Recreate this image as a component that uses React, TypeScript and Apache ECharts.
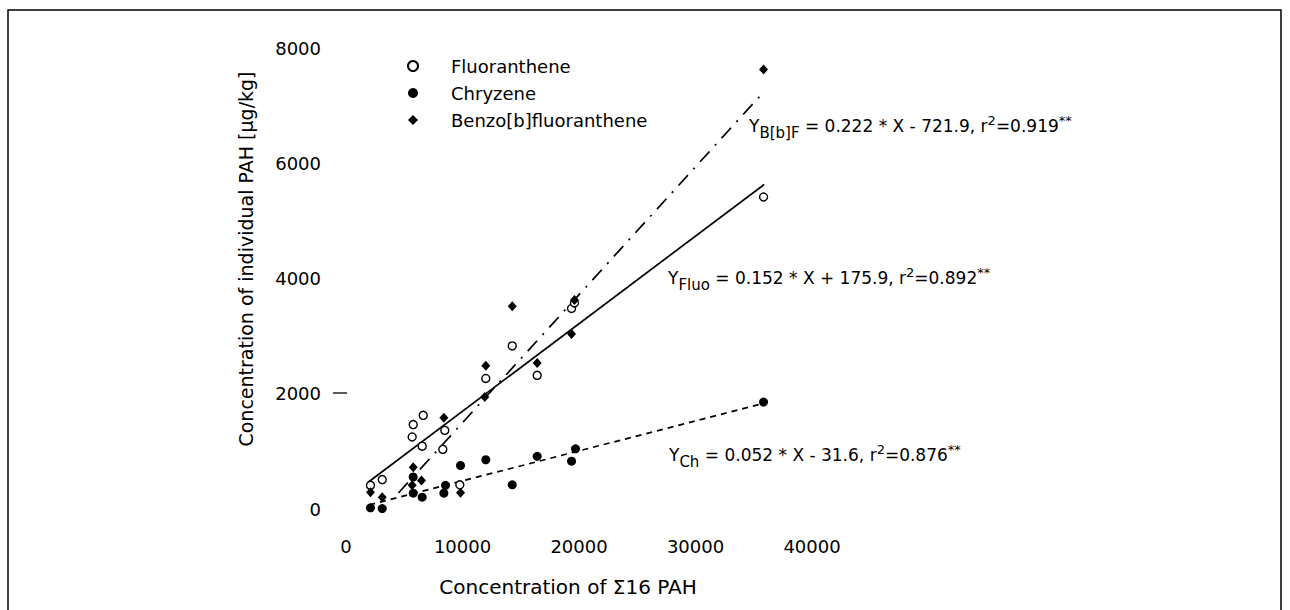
import React, { useEffect, useRef } from "react";
import * as echarts from "echarts";

const seriesNames = ["Fluoranthene", "Chryzene", "Benzo[b]fluoranthene"];

const fluoData: [number, number][] = [
  [2100, 410], [3110, 510], [5680, 1250], [5770, 1465], [6540, 1090],
  [6630, 1625], [8310, 1035], [8480, 1365], [9770, 420], [12000, 2265],
  [14270, 2830], [16410, 2320], [19360, 3480], [19610, 3575], [35840, 5415],
];

const chryData: [number, number][] = [
  [2100, 20], [3110, 8], [5770, 555], [5770, 275], [6540, 205],
  [8400, 275], [8540, 410], [9830, 755], [12000, 855], [14270, 420],
  [16410, 915], [19360, 830], [19700, 1045], [35840, 1855],
];

const benzoData: [number, number][] = [
  [2100, 290], [3110, 205], [5680, 410], [5770, 725], [6480, 495],
  [8400, 1585], [9830, 280], [11910, 1945], [12000, 2485], [14270, 3520],
  [16410, 2535], [19360, 3035], [19610, 3625], [35840, 7625],
];

// regression fits: slope, intercept, x-range
const fitSlopes = [0.152, 0.052, 0.222];
const fitIntercepts = [175.9, -31.6, -721.9];
const fitRanges: [number, number][] = [
  [1900, 35900],
  [2000, 35900],
  [4500, 35840],
];

const xTicks = { min: 0, max: 40000, interval: 10000 };
const yTicks = { min: 0, max: 8000, interval: 2000 };

const FONT = "DejaVu Sans";
const INK = "#000";

function fitLine(i: number): [number, number][] {
  const [a, b] = [fitSlopes[i], fitIntercepts[i]];
  return fitRanges[i].map((x) => [x, a * x + b] as [number, number]);
}

export default function App() {
  const ref = useRef<HTMLDivElement>(null);

  useEffect(() => {
    if (!ref.current) return;
    const chart = echarts.init(ref.current, undefined, { renderer: "svg" });

    const eqRich = {
      m: { fontSize: 17, fontFamily: FONT, color: INK },
      s: { fontSize: 15, fontFamily: FONT, color: INK, padding: [14, 0, 0, 0] },
      p: { fontSize: 13, fontFamily: FONT, color: INK, padding: [0, 0, 12, 0] },
    };

    chart.setOption({
      animation: false,
      backgroundColor: "#ffffff",
      grid: {
        left: 346,
        right: 478,
        top: 48,
        bottom: 101,
        containLabel: false,
        outerBoundsMode: "none",
      },
      xAxis: {
        type: "value",
        min: xTicks.min,
        max: xTicks.max,
        interval: xTicks.interval,
        axisLine: { show: false },
        axisTick: { show: false },
        splitLine: { show: false },
        axisLabel: {
          fontSize: 18,
          fontFamily: FONT,
          color: INK,
          margin: 28,
          formatter: (v: number) => String(v),
        },
      },
      yAxis: {
        type: "value",
        min: yTicks.min,
        max: yTicks.max,
        interval: yTicks.interval,
        axisLine: { show: false },
        axisTick: { show: false },
        splitLine: { show: false },
        axisLabel: {
          fontSize: 18,
          fontFamily: FONT,
          color: INK,
          margin: 25,
          formatter: (v: number) => String(v),
        },
      },
      legend: {
        orient: "vertical",
        left: 402,
        top: 52,
        itemWidth: 10,
        itemHeight: 10,
        itemGap: 9,
        data: seriesNames,
        textStyle: {
          fontSize: 18,
          fontFamily: FONT,
          color: INK,
          padding: [0, 0, 0, 28],
        },
      },
      series: [
        {
          name: "fitFluo",
          type: "line",
          data: fitLine(0),
          symbol: "none",
          silent: true,
          z: 1,
          lineStyle: { color: INK, width: 1.7, type: "solid" },
        },
        {
          name: "fitCh",
          type: "line",
          data: fitLine(1),
          symbol: "none",
          silent: true,
          z: 1,
          lineStyle: { color: INK, width: 1.7, type: [6, 5] },
        },
        {
          name: "fitBbF",
          type: "line",
          data: fitLine(2),
          symbol: "none",
          silent: true,
          z: 1,
          lineStyle: { color: INK, width: 1.7, type: [14, 8, 2, 8] },
        },
        {
          name: seriesNames[0],
          type: "scatter",
          data: fluoData,
          symbol: "circle",
          symbolSize: 8,
          z: 3,
          itemStyle: { color: "#fff", borderColor: INK, borderWidth: 1.4, opacity: 1 },
        },
        {
          name: seriesNames[1],
          type: "scatter",
          data: chryData,
          symbol: "circle",
          symbolSize: 9,
          z: 3,
          itemStyle: { color: INK, opacity: 1 },
        },
        {
          name: seriesNames[2],
          type: "scatter",
          data: benzoData,
          symbol: "diamond",
          symbolSize: [9, 10],
          z: 4,
          itemStyle: { color: INK, opacity: 1 },
        },
      ],
      graphic: [
        {
          type: "rect",
          shape: { x: 8, y: 10, width: 1273, height: 700 },
          style: { fill: "none", stroke: INK, lineWidth: 1.5 },
          silent: true,
        },
        {
          type: "line",
          shape: { x1: 333, y1: 393, x2: 347, y2: 393 },
          style: { stroke: INK, lineWidth: 1.3 },
          silent: true,
        },
        {
          type: "text",
          x: 246,
          y: 259,
          rotation: Math.PI / 2,
          style: {
            text: "Concentration of individual PAH [µg/kg]",
            fontSize: 19,
            fontFamily: FONT,
            fill: INK,
            align: "center",
            verticalAlign: "middle",
          },
        },
        {
          type: "text",
          x: 568,
          y: 587,
          style: {
            text: "Concentration of Σ16 PAH",
            fontSize: 20,
            fontFamily: FONT,
            fill: INK,
            align: "center",
            verticalAlign: "middle",
          },
        },
        {
          type: "text",
          x: 749,
          y: 126,
          style: {
            text: "{m|Y}{s|B[b]F}{m| = 0.222 * X - 721.9, r}{p|2}{m|=0.919}{p|**}",
            rich: eqRich,
            align: "left",
            verticalAlign: "middle",
          },
        },
        {
          type: "text",
          x: 668,
          y: 278,
          style: {
            text: "{m|Y}{s|Fluo}{m| = 0.152 * X + 175.9, r}{p|2}{m|=0.892}{p|**}",
            rich: eqRich,
            align: "left",
            verticalAlign: "middle",
          },
        },
        {
          type: "text",
          x: 669,
          y: 455,
          style: {
            text: "{m|Y}{s|Ch}{m| = 0.052 * X - 31.6, r}{p|2}{m|=0.876}{p|**}",
            rich: eqRich,
            align: "left",
            verticalAlign: "middle",
          },
        },
      ],
    });

    return () => chart.dispose();
  }, []);

  return (
    <div
      ref={ref}
      style={{ position: "absolute", left: 0, top: 0, width: 1290, height: 610 }}
    />
  );
}
